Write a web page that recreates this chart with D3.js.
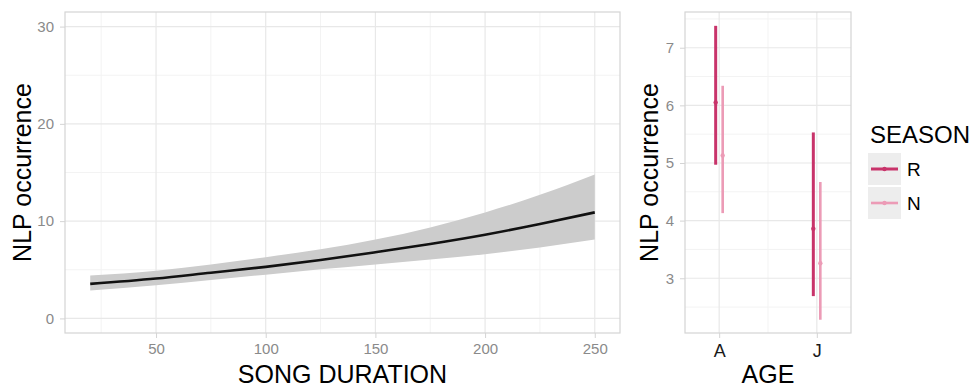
<!DOCTYPE html>
<html>
<head>
<meta charset="utf-8">
<script src="https://cdn.jsdelivr.net/npm/d3@7"></script>
<style>
  body { margin: 0; background: #fff; }
  svg { font-family: "Liberation Sans", Arial, sans-serif; }
</style>
</head>
<body>
<svg id="chart" width="975" height="387"></svg>
<script>
// left panel: fitted curve + ribbon
const duration = [20, 50, 75, 100, 125, 150, 175, 200, 225, 250];
const fit      = [3.55, 4.1, 4.7, 5.3, 6.0, 6.8, 7.65, 8.6, 9.7, 10.9];
const lower    = [2.88, 3.4, 3.95, 4.5, 5.05, 5.55, 6.05, 6.6, 7.3, 8.1];
const upper    = [4.4, 4.9, 5.55, 6.3, 7.1, 8.1, 9.35, 10.9, 12.7, 14.8];
const xTicks = [50, 100, 150, 200, 250];
const xMinor = [25, 75, 125, 175, 225];
const yTicks = [0, 10, 20, 30];
const yMinor = [5, 15, 25];

// right panel: error bars by age and season
const ages = ["A", "J"];
const seasons = ["R", "N"];
const meanR = [6.05, 3.86];
const lowR  = [4.97, 2.69];
const highR = [7.38, 5.53];
const meanN = [5.13, 3.26];
const lowN  = [4.13, 2.28];
const highN = [6.34, 4.67];
const y2Ticks = [3, 4, 5, 6, 7];
const y2Minor = [2.5, 3.5, 4.5, 5.5, 6.5, 7.5];

const colR = "#c8336a", colN = "#ec9bb6";
const gridMajor = "#e8e8e8", gridMinor = "#f3f3f3", border = "#d4d4d4";
const tickCol = "#8a8a8a";

const svg = d3.select("#chart");

// ---------- left panel ----------
const L = {x0: 65, x1: 620, y0: 12, y1: 333};
const x = d3.scaleLinear().domain([8.5, 261.5]).range([L.x0, L.x1]);
const y = d3.scaleLinear().domain([-1.5, 31.5]).range([L.y1, L.y0]);

const gl = svg.append("g");
gl.selectAll(".vminor").data(xMinor).enter().append("line")
    .attr("x1", d => x(d)).attr("x2", d => x(d))
    .attr("y1", L.y0).attr("y2", L.y1)
    .attr("stroke", gridMinor).attr("stroke-width", 1);
gl.selectAll(".hminor").data(yMinor).enter().append("line")
    .attr("y1", d => y(d)).attr("y2", d => y(d))
    .attr("x1", L.x0).attr("x2", L.x1)
    .attr("stroke", gridMinor).attr("stroke-width", 1);
gl.selectAll(".vmajor").data(xTicks).enter().append("line")
    .attr("x1", d => x(d)).attr("x2", d => x(d))
    .attr("y1", L.y0).attr("y2", L.y1)
    .attr("stroke", gridMajor).attr("stroke-width", 1.2);
gl.selectAll(".hmajor").data(yTicks).enter().append("line")
    .attr("y1", d => y(d)).attr("y2", d => y(d))
    .attr("x1", L.x0).attr("x2", L.x1)
    .attr("stroke", gridMajor).attr("stroke-width", 1.2);

const rows = duration.map((d, i) => ({x: d, fit: fit[i], lo: lower[i], hi: upper[i]}));

gl.append("path")
    .datum(rows)
    .attr("fill", "#cccccc")
    .attr("d", d3.area()
        .x(d => x(d.x))
        .y0(d => y(d.lo))
        .y1(d => y(d.hi))
        .curve(d3.curveMonotoneX));

gl.append("path")
    .datum(rows)
    .attr("fill", "none")
    .attr("stroke", "#111")
    .attr("stroke-width", 2.6)
    .attr("d", d3.line()
        .x(d => x(d.x))
        .y(d => y(d.fit))
        .curve(d3.curveMonotoneX));

gl.append("rect")
    .attr("x", L.x0).attr("y", L.y0)
    .attr("width", L.x1 - L.x0).attr("height", L.y1 - L.y0)
    .attr("fill", "none").attr("stroke", border).attr("stroke-width", 1.2);

const xAxis = gl.append("g")
    .attr("transform", "translate(0," + L.y1 + ")")
    .call(d3.axisBottom(x).tickValues(xTicks).tickSize(5).tickPadding(5));
const yAxis = gl.append("g")
    .attr("transform", "translate(" + L.x0 + ",0)")
    .call(d3.axisLeft(y).tickValues(yTicks).tickSize(5).tickPadding(6));
[xAxis, yAxis].forEach(a => {
    a.select(".domain").remove();
    a.selectAll("line").attr("stroke", border);
    a.selectAll("text").attr("fill", tickCol).style("font-size", "15px")
        .style("font-family", "'Liberation Sans', Arial, sans-serif");
});

gl.append("text")
    .attr("x", (L.x0 + L.x1) / 2).attr("y", 383)
    .attr("text-anchor", "middle")
    .style("font-size", "25px")
    .text("SONG DURATION");

gl.append("text")
    .attr("transform", "translate(31," + (L.y0 + L.y1) / 2 + ") rotate(-90)")
    .attr("text-anchor", "middle")
    .style("font-size", "25px")
    .text("NLP occurrence");

// ---------- right panel ----------
const R = {x0: 685, x1: 851, y0: 12, y1: 333};
const x2 = d3.scaleLinear().domain([0.65, 2.35]).range([R.x0, R.x1]);
const y2 = d3.scaleLinear().domain([2.05, 7.62]).range([R.y1, R.y0]);
const ageX = d3.scalePoint().domain(ages).range([x2(1), x2(2)]);
const dodge = d3.scalePoint().domain(seasons).range([-3.5, 3.5]);

const gr = svg.append("g");
gr.selectAll(".hminor").data(y2Minor).enter().append("line")
    .attr("y1", d => y2(d)).attr("y2", d => y2(d))
    .attr("x1", R.x0).attr("x2", R.x1)
    .attr("stroke", gridMinor).attr("stroke-width", 1);
gr.append("line")
    .attr("x1", x2(1.5)).attr("x2", x2(1.5))
    .attr("y1", R.y0).attr("y2", R.y1)
    .attr("stroke", gridMinor).attr("stroke-width", 1);
gr.selectAll(".hmajor").data(y2Ticks).enter().append("line")
    .attr("y1", d => y2(d)).attr("y2", d => y2(d))
    .attr("x1", R.x0).attr("x2", R.x1)
    .attr("stroke", gridMajor).attr("stroke-width", 1.2);
gr.selectAll(".vmajor").data(ages).enter().append("line")
    .attr("x1", d => ageX(d)).attr("x2", d => ageX(d))
    .attr("y1", R.y0).attr("y2", R.y1)
    .attr("stroke", gridMajor).attr("stroke-width", 1.2);

const bars = [];
ages.forEach((a, i) => {
    bars.push({age: a, season: "R", mean: meanR[i], lo: lowR[i], hi: highR[i]});
    bars.push({age: a, season: "N", mean: meanN[i], lo: lowN[i], hi: highN[i]});
});
const colour = d3.scaleOrdinal().domain(seasons).range([colR, colN]);
const bx = d => ageX(d.age) + dodge(d.season);

gr.selectAll(".bar").data(bars).enter().append("line")
    .attr("x1", bx).attr("x2", bx)
    .attr("y1", d => y2(d.lo)).attr("y2", d => y2(d.hi))
    .attr("stroke", d => colour(d.season))
    .attr("stroke-width", d => d.season === "R" ? 3 : 2.6);
gr.selectAll(".pt").data(bars).enter().append("circle")
    .attr("cx", bx).attr("cy", d => y2(d.mean))
    .attr("r", 2.2)
    .attr("fill", d => colour(d.season));

gr.append("rect")
    .attr("x", R.x0).attr("y", R.y0)
    .attr("width", R.x1 - R.x0).attr("height", R.y1 - R.y0)
    .attr("fill", "none").attr("stroke", border).attr("stroke-width", 1.2);

const x2Axis = gr.append("g")
    .attr("transform", "translate(0," + R.y1 + ")")
    .call(d3.axisBottom(ageX).tickSize(5).tickPadding(6));
const y2Axis = gr.append("g")
    .attr("transform", "translate(" + R.x0 + ",0)")
    .call(d3.axisLeft(y2).tickValues(y2Ticks).tickFormat(d3.format("d"))
        .tickSize(5).tickPadding(6));
[x2Axis, y2Axis].forEach(a => {
    a.select(".domain").remove();
    a.selectAll("line").attr("stroke", border);
    a.selectAll("text").style("font-family", "'Liberation Sans', Arial, sans-serif");
});
x2Axis.selectAll("text").attr("fill", "#1a1a1a").style("font-size", "18px");
y2Axis.selectAll("text").attr("fill", tickCol).style("font-size", "15px");

gr.append("text")
    .attr("x", (R.x0 + R.x1) / 2).attr("y", 383)
    .attr("text-anchor", "middle")
    .style("font-size", "25px")
    .text("AGE");

gr.append("text")
    .attr("transform", "translate(658," + (R.y0 + R.y1) / 2 + ") rotate(-90)")
    .attr("text-anchor", "middle")
    .style("font-size", "25px")
    .text("NLP occurrence");

// ---------- legend ----------
const lg = svg.append("g").attr("transform", "translate(868,0)");
lg.append("text")
    .attr("x", 2).attr("y", 143)
    .style("font-size", "24px")
    .text("SEASON");
const keys = lg.selectAll(".key").data(seasons).enter().append("g")
    .attr("transform", (d, i) => "translate(0," + (153 + i * 34) + ")");
keys.append("rect")
    .attr("width", 33).attr("height", 32)
    .attr("fill", "#ededed");
keys.append("line")
    .attr("x1", 3).attr("x2", 30).attr("y1", 16).attr("y2", 16)
    .attr("stroke", d => colour(d))
    .attr("stroke-width", d => d === "R" ? 3 : 2.6);
keys.append("circle")
    .attr("cx", 16.5).attr("cy", 16).attr("r", 2.2)
    .attr("fill", d => colour(d));
keys.append("text")
    .attr("x", 39).attr("y", 23)
    .style("font-size", "19px")
    .text(d => d);
</script>
</body>
</html>
